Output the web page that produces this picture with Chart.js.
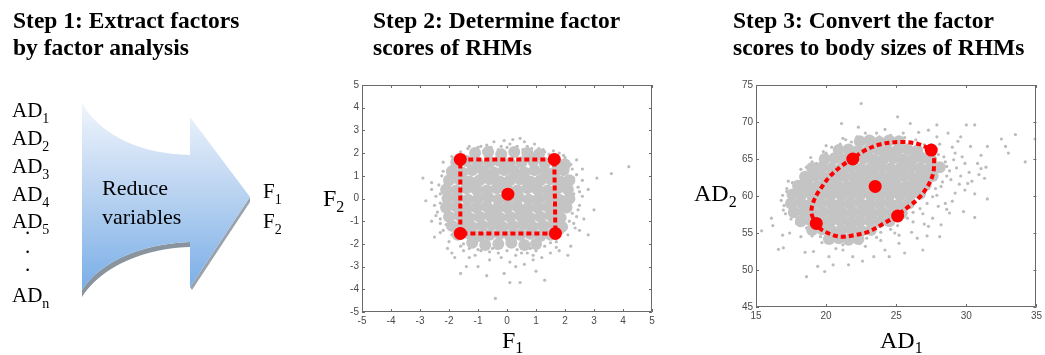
<!DOCTYPE html>
<html lang="en">
<head>
<meta charset="utf-8" />
<title>Factor analysis steps</title>
<script src="https://cdn.jsdelivr.net/npm/chart.js"></script>
<style>
  body { margin: 0; width: 1045px; height: 355px; background: #fff; position: relative; overflow: hidden; }
  .box { position: absolute; }
  svg.overlay { position: absolute; left: 0; top: 0; pointer-events: none; font-family: "Liberation Serif", "Times New Roman", serif; }
</style>
</head>
<body>
<div class="box" style="left:320px;top:75px;width:345px;height:255px"><canvas id="scoreChart"></canvas></div>
<div class="box" style="left:718px;top:75px;width:327px;height:250px"><canvas id="sizeChart"></canvas></div>

<svg class="overlay" width="1045" height="355">
  <defs>
    <linearGradient id="arrowFill" x1="0" y1="103" x2="0" y2="298" gradientUnits="userSpaceOnUse">
      <stop offset="0" stop-color="#f0f5fc" />
      <stop offset="0.5" stop-color="#b5d0f0" />
      <stop offset="1" stop-color="#74abe6" />
    </linearGradient>
  </defs>
  <!-- step titles -->
  <g font-weight="bold" font-size="23.5" fill="#000">
    <text x="13" y="28">Step 1: Extract factors</text>
    <text x="13" y="55">by factor analysis</text>
    <text x="373" y="28">Step 2: Determine factor</text>
    <text x="373" y="55">scores of RHMs</text>
    <text x="733" y="28">Step 3: Convert the factor</text>
    <text x="733" y="55">scores to body sizes of RHMs</text>
  </g>
  <!-- arrow -->
  <path d="M82,290 C100,262 140,244 190,242 L190,247 C150,248 104,263 82,297 Z" fill="#8a949e" />
  <path d="M250,197 L250,202 L192,290 L190,287 Z" fill="#9aa3ad" />
  <path d="M82,103 C100,135 140,154 190,155 L190,117 L250,197 L190,287 L190,242 C140,244 100,262 82,290 Z" fill="url(#arrowFill)" />
  <g font-size="22" fill="#000">
    <text x="102" y="195">Reduce</text>
    <text x="102" y="224">variables</text>
  </g>
  <!-- variable list -->
  <g font-size="21" fill="#000">
    <text x="12" y="117">AD<tspan font-size="14" dy="6">1</tspan></text>
    <text x="12" y="145">AD<tspan font-size="14" dy="6">2</tspan></text>
    <text x="12" y="173">AD<tspan font-size="14" dy="6">3</tspan></text>
    <text x="12" y="201">AD<tspan font-size="14" dy="6">4</tspan></text>
    <text x="12" y="228">AD<tspan font-size="14" dy="6">5</tspan></text>
    <text x="25" y="234">.</text>
    <text x="25" y="253">.</text>
    <text x="25" y="271">.</text>
    <text x="12" y="302">AD<tspan font-size="14" dy="6">n</tspan></text>
    <text x="263" y="198">F<tspan font-size="14" dy="6">1</tspan></text>
    <text x="263" y="228">F<tspan font-size="14" dy="6">2</tspan></text>
  </g>
  <!-- axis titles -->
  <g font-size="24" fill="#000">
    <text x="323" y="206">F<tspan font-size="16" dy="6">2</tspan></text>
    <text x="502" y="348">F<tspan font-size="16" dy="5">1</tspan></text>
    <text x="694" y="201">AD<tspan font-size="16" dy="6">2</tspan></text>
    <text x="880" y="348">AD<tspan font-size="16" dy="5">1</tspan></text>
  </g>
</svg>

<script>
// ---- Step 2: factor scores (F1, F2) ----
const scoreTicks = [-5, -4, -3, -2, -1, 0, 1, 2, 3, 4, 5];

const scoreCloud = [
  [-0.9,2.3],[-0.45,2.5],[-0.2,2.3],[0.2,2.6],[0.45,2.65],[0.7,2.3],[0.95,2.4],[1.1,2.2],[-1.2,2.1],[-1.5,1.9],
  [0.1,2.4],[0.6,2.5],[-0.7,2.35],[1.3,2.05],[2.4,1.7],[2.2,1.5],[2.0,1.8],[1.9,1.1],[2.3,0.9],[2.6,0.8],
  [2.8,0.4],[3.1,0.9],[2.6,0.1],[3.0,-0.5],[2.2,-0.2],[2.4,-0.8],[2.0,-1.2],[2.3,-1.1],[2.8,-1.6],[2.2,-2.1],
  [2.1,-2.5],[1.7,-1.9],[1.5,-2.4],[1.2,-2.6],[0.9,-2.5],[0.6,-2.9],[0.3,-2.5],[0.1,-2.8],[-0.1,-3.3],[0.1,-3.7],
  [0.45,-3.7],[-0.4,-4.4],[-0.7,-3.4],[-1.0,-3.0],[-1.3,-2.6],[-1.4,-3.0],[-1.6,-3.3],[-1.9,-2.4],[-1.6,-2.1],[-2.0,-1.9],
  [-2.2,-1.4],[-2.5,-1.7],[-2.6,-1.0],[-2.4,-0.6],[-2.8,-0.1],[-2.9,0.9],[-2.6,0.4],[-2.3,0.2],[-2.1,0.8],[-2.0,1.0],
  [-1.9,1.4],[-2.2,1.2],[-1.7,1.6],[1.3,-3.6],[1.0,-3.2],[-0.3,-2.4],[0.8,-2.2],[-0.9,-2.3],[3.6,1.1],[4.2,1.4],
  [2.5,-0.3],[2.1,0.5],[-2.5,-0.3],[-1.1,-2.5],[0.3,-3.0],[-0.6,-2.7],[1.9,-1.5],[2.6,1.3],[1.8,2.0],[-1.8,-2.6],
  [-2.3,-0.9],[-2.2,1.6],[-1.3,2.3],[-0.1,2.55],[1.6,2.1],[2.3,0.2],[2.5,-1.4],[1.8,-2.3],[0.5,-2.4],[-0.5,-2.2],
  [-1.5,-2.3],[-2.3,-1.1],
  [-1.6,2.05],[-1.35,2.2],[-1.0,2.25],[-0.8,2.1],[-0.55,2.25],[-0.3,2.15],[0.0,2.25],[0.35,2.3],[0.55,2.15],[0.85,2.2],
  [1.25,2.15],[1.45,1.95],[-1.9,1.85],[1.95,1.9],[2.25,1.3],[2.4,1.05],[2.2,0.65],[2.45,0.5],[2.3,-0.05],[2.45,-0.5],
  [2.25,-0.65],[2.15,-1.0],[2.35,-1.3],[2.1,-1.6],[2.5,0.3],[2.65,-0.9],[-1.5,-2.0],[-1.3,-2.2],[-1.0,-2.25],[-0.6,-2.35],
  [-0.35,-2.2],[0.0,-2.3],[0.35,-2.25],[0.7,-2.4],[1.0,-2.3],[1.3,-2.1],[1.5,-1.95],[1.7,-2.15],[-0.2,-2.6],[0.9,-2.7],
  [-2.25,1.0],[-2.35,0.6],[-2.2,0.45],[-2.45,0.1],[-2.3,-0.2],[-2.2,-0.55],[-2.45,-0.75],[-2.1,-1.15],[-2.3,-1.5],[-1.9,-1.6],
  [-2.05,-2.2],[-2.6,0.7]
];

const scoreCore = [
  [-1.1,2.0],[-0.65,2.05],[-0.2,1.95],[0.25,2.05],[0.7,2.0],[1.1,1.95],
  [-1.75,1.6],[-1.4,1.65],[-1.0,1.55],[-0.6,1.6],[-0.25,1.65],[0.1,1.55],[0.5,1.6],[0.9,1.65],[1.3,1.55],[1.7,1.6],[2.0,1.5],
  [-1.9,1.2],[-1.55,1.15],[-1.2,1.25],[-0.8,1.2],[-0.45,1.15],[-0.1,1.25],[0.25,1.2],[0.6,1.15],[0.95,1.25],[1.3,1.2],[1.65,1.15],[1.95,1.25],
  [-2.0,0.8],[-1.65,0.85],[-1.3,0.75],[-0.95,0.8],[-0.6,0.85],[-0.25,0.75],[0.1,0.8],[0.45,0.85],[0.8,0.75],[1.15,0.8],[1.5,0.85],[1.85,0.75],[2.15,0.8],
  [-2.1,0.4],[-1.75,0.35],[-1.4,0.45],[-1.05,0.4],[-0.7,0.35],[-0.35,0.45],[0.0,0.4],[0.35,0.35],[0.7,0.45],[1.05,0.4],[1.4,0.35],[1.75,0.45],[2.1,0.4],
  [-2.05,0.0],[-1.7,0.05],[-1.35,-0.05],[-1.0,0.0],[-0.65,0.05],[-0.3,-0.05],[0.05,0.0],[0.4,0.05],[0.75,-0.05],[1.1,0.0],[1.45,0.05],[1.8,-0.05],[2.15,0.0],
  [-2.1,-0.4],[-1.75,-0.35],[-1.4,-0.45],[-1.05,-0.4],[-0.7,-0.35],[-0.35,-0.45],[0.0,-0.4],[0.35,-0.35],[0.7,-0.45],[1.05,-0.4],[1.4,-0.35],[1.75,-0.45],[2.05,-0.4],
  [-2.0,-0.8],[-1.65,-0.75],[-1.3,-0.85],[-0.95,-0.8],[-0.6,-0.75],[-0.25,-0.85],[0.1,-0.8],[0.45,-0.75],[0.8,-0.85],[1.15,-0.8],[1.5,-0.75],[1.85,-0.85],
  [-1.9,-1.2],[-1.55,-1.15],[-1.2,-1.25],[-0.85,-1.2],[-0.5,-1.15],[-0.15,-1.25],[0.2,-1.2],[0.55,-1.15],[0.9,-1.25],[1.25,-1.2],[1.6,-1.15],[1.9,-1.25],
  [-1.7,-1.6],[-1.3,-1.55],[-0.95,-1.65],[-0.6,-1.6],[-0.25,-1.55],[0.1,-1.65],[0.45,-1.6],[0.8,-1.55],[1.15,-1.65],[1.5,-1.6],
  [-1.2,-1.95],[-0.75,-2.05],[-0.3,-2.0],[0.15,-1.95],[0.6,-2.05],[1.0,-2.0]
];

const scoreBox = [[-1.61,1.72],[1.63,1.72],[1.67,-1.54],[-1.61,-1.54],[-1.61,1.72]];
const scoreMarks = [[-1.61,1.72],[1.63,1.72],[-1.61,-1.54],[1.67,-1.54],[0.03,0.19]];

// ---- Step 3: body sizes (AD1, AD2) ----
const sizeXTicks = [15, 20, 25, 30, 35];
const sizeYTicks = [45, 50, 55, 60, 65, 70, 75];

const sizeCloud = [
  [22.5,72.5],[25.1,70.7],[21.1,69.8],[26.0,69.8],[27.9,69.6],[30.0,69.6],[30.6,69.6],[32.5,67.7],[33.5,68.3],[34.9,67.7],
  [33.0,65.8],[34.2,64.6],[31.05,63.7],[31.5,59.6],[30.6,57.1],[28.2,56.1],[28.1,54.5],[26.9,52.7],[23.4,51.8],[22.6,51.2],
  [21.6,50.7],[19.4,50.5],[18.6,49.1],[19.9,49.8],[16.95,53.0],[16.6,52.8],[15.4,55.3],[16.1,57.0],[16.95,58.1],[17.2,60.6],
  [18.1,61.5],[18.5,62.9],[19.3,64.4],[19.8,66.0],[21.4,67.6],[22.8,68.5],[23.6,68.5],[27.3,68.9],[28.7,68.5],[29.4,67.4],
  [29.2,65.8],[29.9,64.4],[30.8,64.4],[31.05,65.5],[30.9,62.9],[30.1,61.7],[29.2,60.4],[28.5,59.0],[28.8,57.7],[28.2,61.3],
  [27.3,55.9],[25.2,53.6],[24.2,52.7],[21.2,52.7],[20.2,51.8],[19.1,52.5],[18.2,54.5],[17.4,55.0],[17.9,56.3],[28.6,64.0],
  [29.6,62.7],[27.9,68.0],[30.3,66.7],[31.5,66.7],[32.8,66.7],[29.6,68.0],[28.9,62.2],[29.3,63.8],[28.4,65.3],[27.9,60.1],
  [29.0,59.3],[28.6,58.2],[26.9,57.6],[27.6,57.0],[26.2,56.5],[24.9,55.0],[23.9,54.0],[22.8,53.2],[21.7,53.6],[20.7,52.9],
  [19.7,53.7],[18.9,55.1],[17.9,57.2],[16.8,59.4],[17.3,62.0],[18.2,63.6],[18.9,65.2],[20.0,66.8],[21.2,67.8],[22.3,69.3],
  [24.2,69.0],[25.5,68.5],[26.6,68.6],[28.1,67.0],[29.0,66.6],[30.2,63.2],[31.4,63.9],[31.3,62.4],[30.6,60.3],[29.8,57.9],
  [27.2,54.6],[25.6,52.3],[24.5,51.8],[21.9,51.8],[20.5,50.7],[18.5,52.4],[16.9,54.7],[16.2,56.0],
  [19.0,64.6],[18.6,63.9],[18.3,62.5],[17.6,61.8],[17.2,61.0],[16.9,60.1],[17.0,58.7],[17.1,57.6],[20.0,65.8],[20.4,66.6],
  [21.0,67.0],[21.8,67.3],[22.2,68.0],[23.0,68.1],[23.8,68.0],[24.6,68.2],[25.6,67.9],[26.4,67.6],[27.0,66.9],[27.5,66.9],
  [28.0,65.6],[28.5,64.6],[28.8,63.4],[28.6,62.7],[28.3,61.9],[27.8,61.0],[27.6,59.9],[27.2,59.0],[26.7,58.3],[26.2,57.8],
  [25.8,57.0],[25.1,56.0],[24.6,55.5],[23.9,55.1],[23.6,54.4],[22.9,54.3],[22.4,53.6],[21.2,53.4],[20.4,53.7],[19.6,54.5],
  [19.0,54.6],[18.6,55.7],[18.1,56.0],[17.5,56.9],[29.5,61.6],[29.9,60.8],[30.4,62.0],[29.1,64.9],[29.7,65.3],[28.0,58.6],
  [27.0,56.2],[26.1,55.1],[25.2,54.7],[26.5,54.3]
];

const sizeCore = [
  [22.4,67.4],[23.1,67.5],[23.8,67.3],[24.5,67.5],[25.2,67.4],
  [20.9,66.2],[21.6,66.3],[22.3,66.1],[23.0,66.2],[23.7,66.3],[24.4,66.1],[25.1,66.2],[25.8,66.3],[26.5,66.1],
  [19.9,65.0],[20.6,65.1],[21.3,64.9],[22.0,65.0],[22.7,65.1],[23.4,64.9],[24.1,65.0],[24.8,65.1],[25.5,64.9],[26.2,65.0],[26.9,65.1],[27.5,64.9],
  [19.0,63.8],[19.7,63.9],[20.4,63.7],[21.1,63.8],[21.8,63.9],[22.5,63.7],[23.2,63.8],[23.9,63.9],[24.6,63.7],[25.3,63.8],[26.0,63.9],[26.7,63.7],[27.4,63.8],[28.1,63.9],
  [18.5,62.6],[19.2,62.7],[19.9,62.5],[20.6,62.6],[21.3,62.7],[22.0,62.5],[22.7,62.6],[23.4,62.7],[24.1,62.5],[24.8,62.6],[25.5,62.7],[26.2,62.5],[26.9,62.6],[27.6,62.7],
  [18.0,61.4],[18.7,61.5],[19.4,61.3],[20.1,61.4],[20.8,61.5],[21.5,61.3],[22.2,61.4],[22.9,61.5],[23.6,61.3],[24.3,61.4],[25.0,61.5],[25.7,61.3],[26.4,61.4],[27.1,61.5],
  [17.6,60.2],[18.3,60.3],[19.0,60.1],[19.7,60.2],[20.4,60.3],[21.1,60.1],[21.8,60.2],[22.5,60.3],[23.2,60.1],[23.9,60.2],[24.6,60.3],[25.3,60.1],[26.0,60.2],[26.7,60.3],
  [17.5,59.0],[18.2,59.1],[18.9,58.9],[19.6,59.0],[20.3,59.1],[21.0,58.9],[21.7,59.0],[22.4,59.1],[23.1,58.9],[23.8,59.0],[24.5,59.1],[25.2,58.9],[25.9,59.0],
  [17.7,57.8],[18.4,57.9],[19.1,57.7],[19.8,57.8],[20.5,57.9],[21.2,57.7],[21.9,57.8],[22.6,57.9],[23.3,57.7],[24.0,57.8],[24.7,57.9],[25.4,57.7],
  [18.2,56.6],[18.9,56.7],[19.6,56.5],[20.3,56.6],[21.0,56.7],[21.7,56.5],[22.4,56.6],[23.1,56.7],[23.8,56.5],[24.5,56.6],
  [19.0,55.4],[19.7,55.5],[20.4,55.3],[21.1,55.4],[21.8,55.5],[22.5,55.3],[23.2,55.4],
  [20.2,54.2],[20.9,54.3],[21.6,54.1],[22.3,54.2]
];

const sizeEllipse = [
  [27.7,65.1],[27.7,64.4],[27.64,63.1],[27.3,61.5],[26.6,59.7],[25.9,58.6],[25.06,57.4],[24.2,56.4],[23.06,55.2],[22.0,54.7],
  [21.06,54.5],[20.24,54.9],[19.5,55.7],[19.07,57.0],[18.95,58.1],[19.2,59.7],[19.65,61.1],[20.24,62.6],[21.06,64.0],[21.9,65.1],
  [22.8,66.2],[23.9,67.0],[25.4,67.3],[26.6,67.0],[27.4,66.2],[27.7,65.1]
];
const sizeMarks = [[19.3,56.3],[21.9,65.0],[23.5,61.3],[25.1,57.3],[27.5,66.2]];

const toXY = pts => pts.map(p => ({ x: p[0], y: p[1] }));

// box around plot area with MATLAB-like inward ticks
const frame = {
  id: 'frame',
  afterDatasetsDraw(chart) {
    const { ctx, chartArea: a, scales } = chart;
    ctx.save();
    ctx.strokeStyle = '#6a6a6a';
    ctx.lineWidth = 1;
    ctx.beginPath();
    ctx.rect(Math.round(a.left) + 0.5, Math.round(a.top) + 0.5, Math.round(a.width) - 1, Math.round(a.height) - 1);
    scales.x.ticks.forEach(t => {
      const px = Math.round(scales.x.getPixelForValue(t.value)) + 0.5;
      ctx.moveTo(px, a.bottom); ctx.lineTo(px, a.bottom - 3);
      ctx.moveTo(px, a.top); ctx.lineTo(px, a.top + 3);
    });
    scales.y.ticks.forEach(t => {
      const py = Math.round(scales.y.getPixelForValue(t.value)) + 0.5;
      ctx.moveTo(a.left, py); ctx.lineTo(a.left + 3, py);
      ctx.moveTo(a.right, py); ctx.lineTo(a.right - 3, py);
    });
    ctx.stroke();
    ctx.restore();
  }
};

function axis(min, max, ticks, fit) {
  return {
    type: 'linear',
    min: min,
    max: max,
    grid: { display: false, drawTicks: false },
    border: { display: false },
    ticks: { color: '#4a4a4a', padding: 3, maxRotation: 0, font: { family: 'Liberation Sans', size: 10 } },
    afterBuildTicks: s => { s.ticks = ticks.map(v => ({ value: v })); },
    afterFit: fit
  };
}

function scatterChart(id, cloud, core, path, marks, tension, xr, yr, pad) {
  return new Chart(document.getElementById(id), {
    type: 'scatter',
    data: {
      datasets: [
        { data: toXY(marks), pointRadius: 6.5, backgroundColor: '#ff0000', borderWidth: 0, order: 0 },
        { data: toXY(path), showLine: true, borderColor: '#ff0000', borderWidth: 4, borderDash: [5, 3],
          tension: tension, pointRadius: 0, order: 1 },
        { data: toXY(core), pointRadius: 6, backgroundColor: '#c4c4c4', borderWidth: 0, order: 2 },
        { data: toXY(cloud), pointRadius: 1.6, backgroundColor: '#bcbcbc', borderWidth: 0, order: 3 }
      ]
    },
    options: {
      responsive: true,
      maintainAspectRatio: false,
      animation: false,
      events: [],
      layout: { padding: pad },
      plugins: { legend: { display: false }, tooltip: { enabled: false } },
      scales: {
        x: axis(xr[0], xr[1], xr[2], s => { s.height = 18; }),
        y: axis(yr[0], yr[1], yr[2], s => { s.width = 26; })
      }
    },
    plugins: [frame]
  });
}

scatterChart('scoreChart', scoreCloud, scoreCore, scoreBox, scoreMarks, 0,
  [-5, 5, scoreTicks], [-5, 5, scoreTicks], { left: 16, top: 10, right: 13, bottom: 0 });

scatterChart('sizeChart', sizeCloud, sizeCore, sizeEllipse, sizeMarks, 0.35,
  [15, 35, sizeXTicks], [45, 75, sizeYTicks], { left: 12, top: 10, right: 6, bottom: 0 });
</script>
</body>
</html>
